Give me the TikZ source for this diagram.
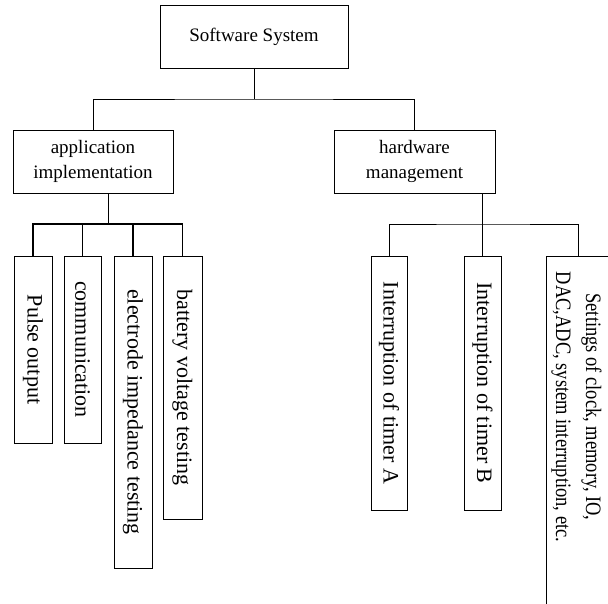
\documentclass[tikz,border=0pt]{standalone}
\usepackage{fontspec}
\setmainfont{Liberation Serif}
\usepackage{graphicx}
\usepackage{tikz}

\begin{document}
\begin{tikzpicture}[x=1pt, y=-1pt, line width=0.9pt,
      hbox/.style={rectangle, draw, align=center, inner sep=0pt,
        font=\fontsize{19}{25}\selectfont},
      vbox/.style={rectangle, draw, inner sep=0pt,
        font=\fontsize{22}{30}\selectfont},
      vtext/.style={rotate=-90, inner sep=0pt,
        font=\fontsize{22}{30}\selectfont},
      busline/.style={line width=1.7pt}
      ]
      \clip (0,0) rectangle (608,604);
      % levels 0 and 1
      \node[hbox, minimum width=188pt, minimum height=63pt] (sys) at (254,36.5) {Software System};
      \node[hbox, minimum width=160pt, minimum height=63pt] (app) at (93,161.5) {application\\implementation};
      \node[hbox, minimum width=161pt, minimum height=63pt] (hw) at (414.5,161.5) {hardware\\management};
      % application tasks
      \node[vbox, minimum width=38pt, minimum height=187pt] (pulse) at (33,349.5) {\rotatebox{-90}{Pulse output}};
      \node[vbox, minimum width=37pt, minimum height=187pt] (comm) at (82.5,349.5) {\rotatebox{-90}{communication}};
      \node[vbox, minimum width=38pt, minimum height=312pt] (elec) at (133,412) {\rotatebox{-90}{electrode impedance testing}};
      \node[vbox, minimum width=39pt, minimum height=263pt] (batt) at (182.5,387.5) {\rotatebox{-90}{battery voltage testing}};
      % hardware tasks
      \node[vbox, minimum width=36pt, minimum height=254pt] (timA) at (389,383) {\rotatebox{-90}{Interruption of timer A}};
      \node[vbox, minimum width=37pt, minimum height=254pt] (timB) at (482.5,383) {\rotatebox{-90}{Interruption of timer B}};
      \node[vbox, minimum width=64pt, minimum height=384pt] (clk) at (578,448) {};
      \node[vtext] (clktxt) at (577,407) {\scalebox{0.84}[1]{\begin{tabular}{@{}c@{}}Settings of clock, memory, IO,\\DAC,ADC, system interruption, etc.\end{tabular}}};
      % connectors
      \coordinate (bus1) at (254,99);
      \coordinate (bus2) at (108,224);
      \coordinate (bus3) at (482.5,224);
      \draw (sys) -- (bus1);
      \draw (app.north) |- (bus1) -| (hw.north);
      \draw (app.south -| bus2) -- (bus2);
      \draw[busline] (pulse.north) |- (batt.north |- bus2) -- (batt.north);
      \draw[busline] (comm.north) -- (comm.north |- bus2);
      \draw[busline] (elec.north) -- (elec.north |- bus2);
      \draw (hw.south -| bus3) -- (timB.north);
      \draw (timA.north) |- (bus3) -| (clk.north);
    \end{tikzpicture}
\end{document}
